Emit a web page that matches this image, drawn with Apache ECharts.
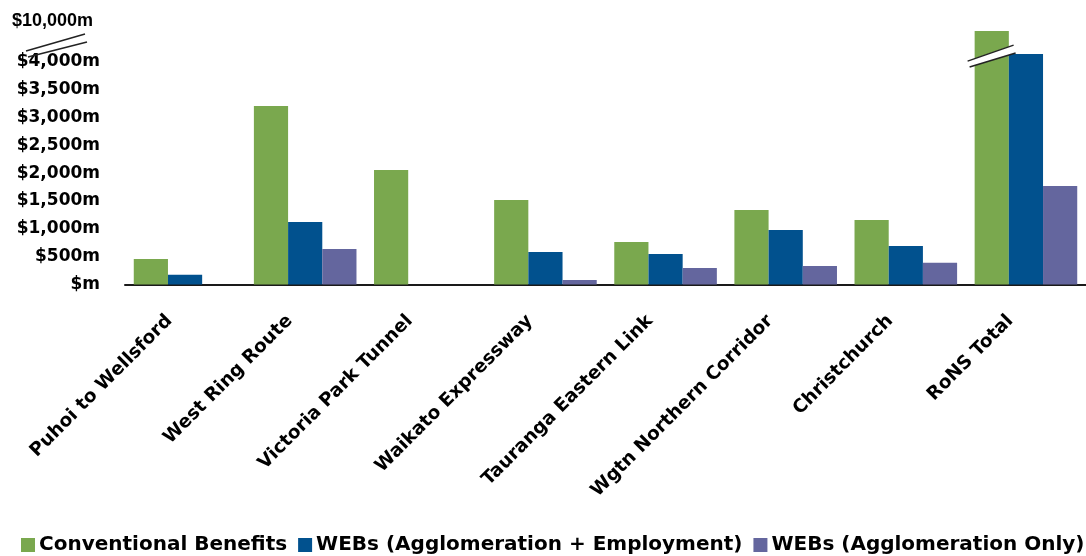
<!DOCTYPE html>
<html>
<head>
<meta charset="utf-8">
<title>RoNS benefits</title>
<script src="https://cdn.jsdelivr.net/npm/echarts@6.0.0/dist/echarts.min.js"></script>
<style>
  html, body { margin: 0; padding: 0; background: #fff; }
  #chart { width: 1086px; height: 556px; }
</style>
</head>
<body>
<div id="chart"></div>
<script>
// Benefits by project, $ million
const categories = [
  'Puhoi to Wellsford', 'West Ring Route', 'Victoria Park Tunnel', 'Waikato Expressway',
  'Tauranga Eastern Link', 'Wgtn Northern Corridor', 'Christchurch', 'RoNS Total'
];
const conventionalBenefits = [458, 3206, 2056, 1518, 763, 1338, 1158, 9830];
const websAggEmp = [176, 1122, 0, 584, 548, 979, 691, 4140];
const websAggOnly = [0, 638, 0, 81, 296, 332, 392, 1769];

const seriesNames = [
  'Conventional Benefits',
  'WEBs (Agglomeration + Employment)',
  'WEBs (Agglomeration Only)'
];

// Value axis: labelled ticks, with the scale broken between 4,300 and 9,600
const yTickValues = [0, 500, 1000, 1500, 2000, 2500, 3000, 3500, 4000, 10000];
const yMin = 0;
const yMax = 10000;
const yInterval = 500;
const breakStart = 4300;
const breakEnd = 9600;
const topTick = 10000;

const colors = ['#7aa84e', '#01518e', '#64669e'];
const gridLeft = 125;
const gridRight = -4;
const catGap = 0.146;

const chart = echarts.init(document.getElementById('chart'), null, { renderer: 'canvas' });

function moneyLabel(v) {
  if (yTickValues.indexOf(v) < 0) return '';
  if (v === 0) return '$m';
  const s = '$' + v.toLocaleString('en-US') + 'm';
  return v === topTick ? '{top|' + s + '}' : s;
}

const seriesData = [conventionalBenefits, websAggEmp, websAggOnly];

chart.setOption({
  animation: false,
  color: colors,
  grid: { left: gridLeft, right: gridRight, top: 21.5, bottom: 271.5, containLabel: false },
  legend: {
    left: 21,
    top: 535,
    padding: 0,
    width: 1200,
    itemWidth: 14,
    itemHeight: 14,
    itemGap: 11,
    icon: 'rect',
    textStyle: { fontFamily: 'DejaVu Sans', fontWeight: 'bold', fontSize: 20, color: '#000', padding: [0, 0, 0, -1] },
    data: seriesNames
  },
  xAxis: {
    type: 'category',
    data: categories,
    axisLine: { show: true, lineStyle: { color: '#1a1a1a', width: 2 } },
    axisTick: { show: false },
    splitLine: { show: false },
    axisLabel: {
      interval: 0,
      rotate: 45,
      margin: 18,
      padding: [0, 22, 0, 0],
      color: '#000',
      fontFamily: 'DejaVu Sans',
      fontWeight: 'bold',
      fontSize: 18.5
    }
  },
  yAxis: {
    type: 'value',
    min: yMin,
    max: yMax,
    interval: yInterval,
    breaks: [{ start: breakStart, end: breakEnd, gap: '0.5%' }],
    breakArea: { show: false },
    breakLabelLayout: { moveOverlap: false },
    axisLine: { show: false },
    axisTick: { show: false },
    splitLine: { show: false },
    axisLabel: {
      customValues: yTickValues,
      margin: 25,
      hideOverlap: false,
      showMinLabel: true,
      showMaxLabel: true,
      color: '#000',
      fontFamily: 'DejaVu Sans',
      fontWeight: 'bold',
      fontSize: 17,
      formatter: moneyLabel,
      rich: {
        top: {
          fontFamily: 'Liberation Sans',
          fontWeight: 'bold',
          fontSize: 18,
          color: '#000',
          padding: [0, 7, 0, 0]
        }
      }
    }
  },
  series: seriesNames.map((name, i) => ({
    name: name,
    type: 'bar',
    data: seriesData[i],
    barGap: '0%',
    barCategoryGap: (catGap * 100) + '%',
    itemStyle: { color: colors[i] }
  }))
});

// Axis-break marks: one pair beside the value axis, one across the cut total bar
function breakMarks() {
  const yb = chart.convertToPixel({ yAxisIndex: 0 }, breakStart);
  const xc = chart.convertToPixel({ xAxisIndex: 0 }, categories[categories.length - 1]);
  const catW = (chart.getWidth() - gridLeft - gridRight) / categories.length;
  const barW = catW * (1 - catGap) / 3;
  const gc = xc - barW;
  const lineStyle = { stroke: '#222', lineWidth: 1.5 };
  const ax = gridLeft;
  return [
    { type: 'line', z: 100, shape: { x1: ax - 99, y1: yb + 6, x2: ax - 40, y2: yb - 11 }, style: lineStyle },
    { type: 'line', z: 100, shape: { x1: ax - 97, y1: yb + 12, x2: ax - 38, y2: yb - 3 }, style: lineStyle },
    {
      type: 'polygon', z: 99,
      shape: { points: [[gc - 24, yb + 16], [gc + 22, yb], [gc + 24, yb + 8], [gc - 22, yb + 22]] },
      style: { fill: '#fff' }
    },
    { type: 'line', z: 100, shape: { x1: gc - 24, y1: yb + 16, x2: gc + 22, y2: yb }, style: lineStyle },
    { type: 'line', z: 100, shape: { x1: gc - 22, y1: yb + 22, x2: gc + 24, y2: yb + 8 }, style: lineStyle }
  ];
}

chart.setOption({ graphic: breakMarks() });
</script>
</body>
</html>
